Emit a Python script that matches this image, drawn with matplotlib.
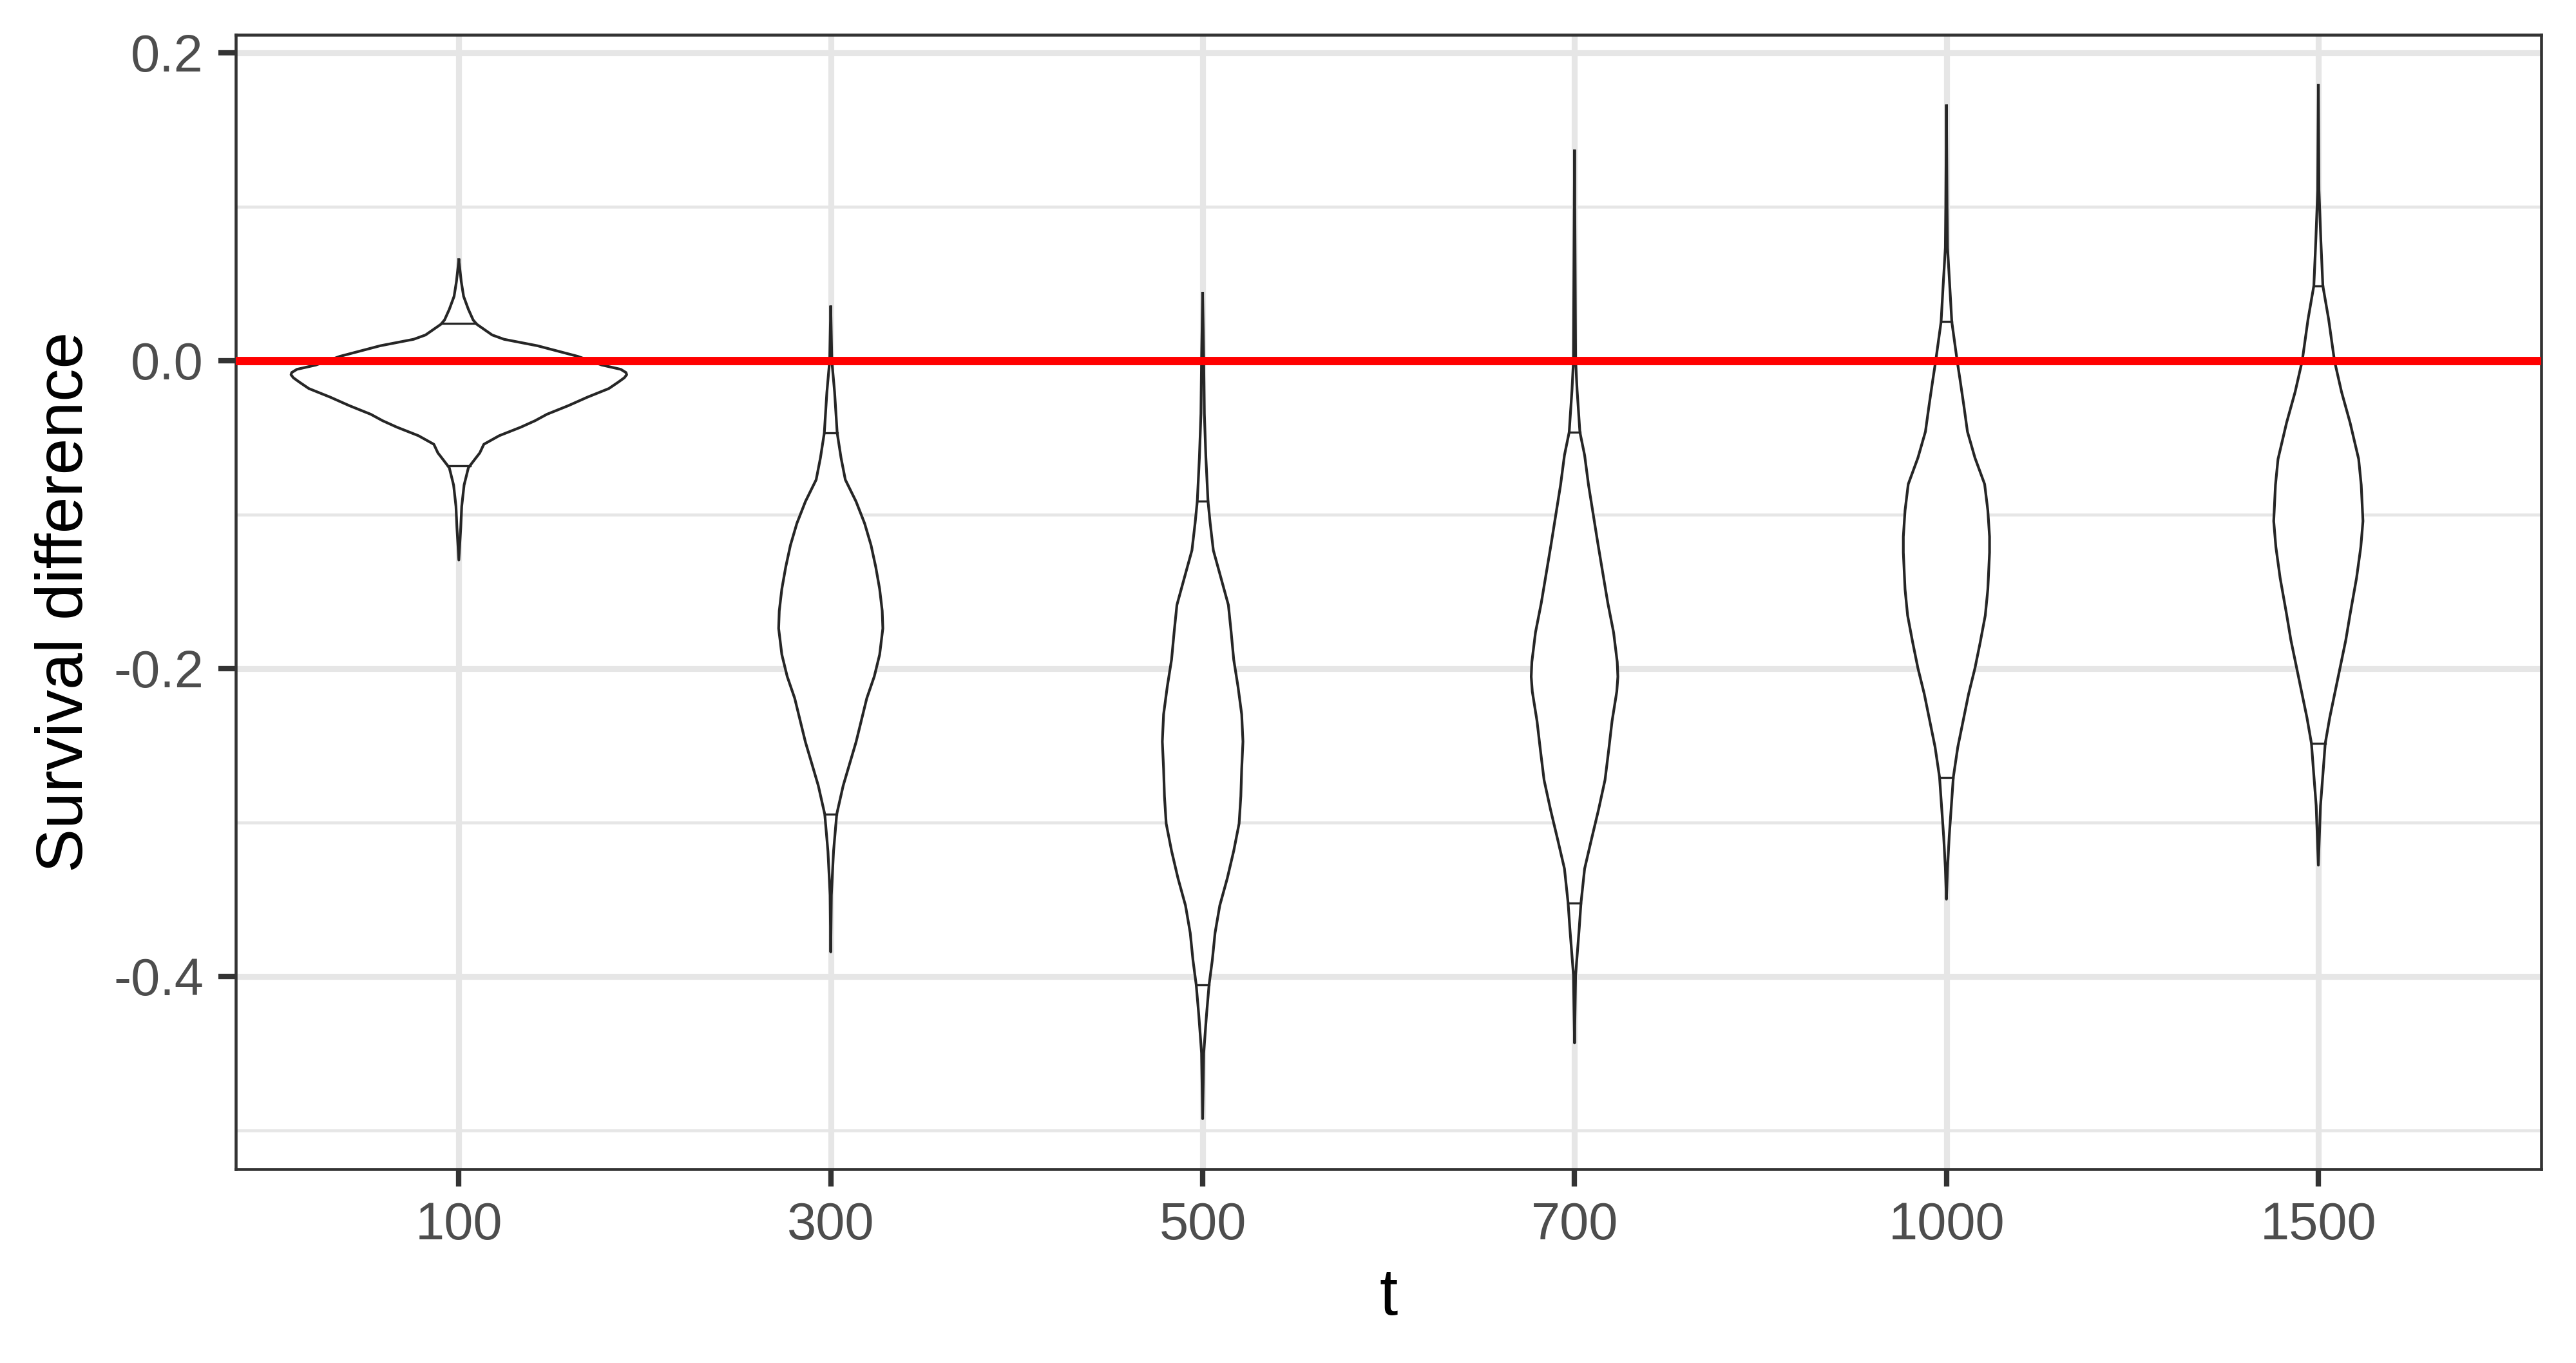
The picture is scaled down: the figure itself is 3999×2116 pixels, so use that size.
import numpy as np
import matplotlib.pyplot as plt

plt.rcParams['font.family'] = ['Liberation Sans', 'DejaVu Sans']

# categories on the x axis
t_labels = ['100', '300', '500', '700', '1000', '1500']

# violin outlines: y values and half widths (in category units)
v100_y = [0.0655, 0.0515, 0.0418, 0.0334, 0.0265, 0.0237, 0.0167, 0.0139, 0.0097, 0.0028,
          -0.0028, -0.0056, -0.0077, -0.0091, -0.0111, -0.0139, -0.0181, -0.0237, -0.0292,
          -0.0348, -0.0390, -0.0432, -0.0487, -0.0543, -0.0599, -0.0655, -0.0696, -0.0808,
          -0.0947, -0.1086, -0.1295]
v100_w = [0.0, 0.0064, 0.0128, 0.0256, 0.0384, 0.048, 0.0896, 0.1216, 0.2113, 0.3201,
          0.3841, 0.4353, 0.4494, 0.4513, 0.4449, 0.4289, 0.4033, 0.3457, 0.2945,
          0.2369, 0.2049, 0.1665, 0.1088, 0.0672, 0.0563, 0.0384, 0.0256, 0.0141,
          0.0077, 0.0051, 0.0]

v300_y = [0.0349, 0.0, -0.0205, -0.0469, -0.0631, -0.0773, -0.0915, -0.1057, -0.1199,
          -0.1341, -0.1483, -0.1625, -0.1739, -0.1909, -0.2051, -0.2193, -0.2335, -0.2477,
          -0.2619, -0.2761, -0.2946, -0.3188, -0.3472, -0.3841]
v300_w = [0.0, 0.0029, 0.0104, 0.0173, 0.0277, 0.0392, 0.0681, 0.0911, 0.1084, 0.1211,
          0.1315, 0.1384, 0.1401, 0.1315, 0.1171, 0.0969, 0.0825, 0.0681, 0.0507, 0.0334,
          0.0161, 0.0075, 0.0017, 0.0]

v500_y = [0.0437, 0.0, -0.0344, -0.0628, -0.0912, -0.1054, -0.1232, -0.1409, -0.1587,
          -0.1764, -0.1942, -0.2119, -0.2297, -0.2474, -0.2652, -0.2829, -0.3007, -0.3184,
          -0.3362, -0.3539, -0.3717, -0.3894, -0.4054, -0.4249, -0.4498, -0.4924]
v500_w = [0.0, 0.0029, 0.0046, 0.0087, 0.0144, 0.0202, 0.0288, 0.0490, 0.0692, 0.0767,
          0.0836, 0.0952, 0.1050, 0.1084, 0.1050, 0.1027, 0.0980, 0.0836, 0.0663, 0.0461,
          0.0334, 0.0260, 0.0173, 0.0104, 0.0029, 0.0]

v700_y = [0.1362, 0.0, -0.0192, -0.0464, -0.0614, -0.0806, -0.0998, -0.1190, -0.1381,
          -0.1573, -0.1765, -0.1957, -0.2053, -0.2149, -0.2341, -0.2532, -0.2724, -0.2916,
          -0.3108, -0.3300, -0.3523, -0.3684, -0.3991, -0.4432]
v700_w = [0.0, 0.0029, 0.0069, 0.0144, 0.0271, 0.0375, 0.0502, 0.0629, 0.0761, 0.0894,
          0.1050, 0.1148, 0.1165, 0.1136, 0.1009, 0.0917, 0.0819, 0.0646, 0.0456, 0.0271,
          0.0173, 0.0127, 0.0029, 0.0]

v1000_y = [0.1655, 0.1007, 0.0734, 0.0495, 0.0253, 0.0, -0.0119, -0.0290, -0.0461, -0.0631,
           -0.0802, -0.0973, -0.1143, -0.1246, -0.1485, -0.1655, -0.1826, -0.1997, -0.2167,
           -0.2338, -0.2509, -0.2706, -0.2850, -0.3089, -0.3294, -0.3498]
v1000_w = [0.0, 0.0017, 0.0029, 0.0087, 0.0144, 0.0288, 0.0363, 0.0467, 0.0565, 0.0767,
           0.1027, 0.1113, 0.1159, 0.1159, 0.1113, 0.1044, 0.0911, 0.0767, 0.0594, 0.0450,
           0.0306, 0.0185, 0.0144, 0.0075, 0.0029, 0.0]

v1500_y = [0.1788, 0.1109, 0.0773, 0.0487, 0.0269, 0.0, -0.0202, -0.0403, -0.0639, -0.0807,
           -0.1042, -0.1210, -0.1412, -0.1647, -0.1815, -0.1983, -0.2151, -0.2319, -0.2487,
           -0.2655, -0.2891, -0.3277]
v1500_w = [0.0, 0.0017, 0.0069, 0.0121, 0.0277, 0.0433, 0.0623, 0.0854, 0.1084, 0.1153,
           0.1200, 0.1142, 0.1027, 0.0854, 0.0738, 0.0594, 0.0450, 0.0306, 0.0185, 0.0133,
           0.0058, 0.0]

# quantile lines drawn inside each violin
q_hi = [0.0241, -0.0469, -0.0912, -0.0464, 0.0253, 0.0487]
q_lo = [-0.0682, -0.2946, -0.4054, -0.3523, -0.2706, -0.2487]

y_ticks = [-0.4, -0.2, 0.0, 0.2]
y_tick_labels = ['-0.4', '-0.2', '0.0', '0.2']
y_minor = [-0.5, -0.3, -0.1, 0.1]

profiles = [(v100_y, v100_w), (v300_y, v300_w), (v500_y, v500_w),
            (v700_y, v700_w), (v1000_y, v1000_w), (v1500_y, v1500_w)]

fig = plt.figure(figsize=(3999 / 300, 2116 / 300), dpi=300)
ax = fig.add_axes([0.0915, 0.1423, 0.9866 - 0.0915, 0.9747 - 0.1423])

outline = '#262626'
for i, (yy, ww) in enumerate(profiles):
    x = i + 1
    yy = np.array(yy)
    ww = np.array(ww)
    ax.fill_betweenx(yy, x - ww, x + ww, facecolor='white', edgecolor='none', zorder=2)
    xs = np.concatenate([x - ww, (x + ww)[::-1], [x - ww[0]]])
    ys = np.concatenate([yy, yy[::-1], [yy[0]]])
    ax.plot(xs, ys, color=outline, lw=1.0, zorder=3, solid_joinstyle='round')
    for q in (q_hi[i], q_lo[i]):
        w = np.interp(q, yy[::-1], ww[::-1])
        ax.plot([x - w, x + w], [q, q], color=outline, lw=0.8, zorder=3)

ax.axhline(0, color='#FF0000', lw=3.1, zorder=4)

ax.set_xlim(0.4, 6.6)
ax.set_ylim(-0.5251, 0.2119)
ax.set_xticks(range(1, len(t_labels) + 1))
ax.set_xticklabels(t_labels)
ax.set_yticks(y_ticks)
ax.set_yticklabels(y_tick_labels)
ax.set_yticks(y_minor, minor=True)

ax.set_axisbelow(True)
ax.grid(which='major', color='#E6E6E6', lw=2.2)
ax.grid(which='minor', axis='y', color='#E6E6E6', lw=1.1)

ax.tick_params(which='major', length=6.5, width=2.0, color='#333333', pad=5.5,
               labelsize=19.5, labelcolor='#4D4D4D')
ax.tick_params(which='minor', length=0)
for s in ax.spines.values():
    s.set_color('#333333')
    s.set_linewidth(1.1)

fig.text(0.0255, 0.5585, 'Survival difference', rotation=90, ha='center', va='center',
         fontsize=24.5, color='black')
fig.text(0.539, 0.048, 't', ha='center', va='center', fontsize=24.5, color='black')

fig.savefig('out.png', dpi=300)
